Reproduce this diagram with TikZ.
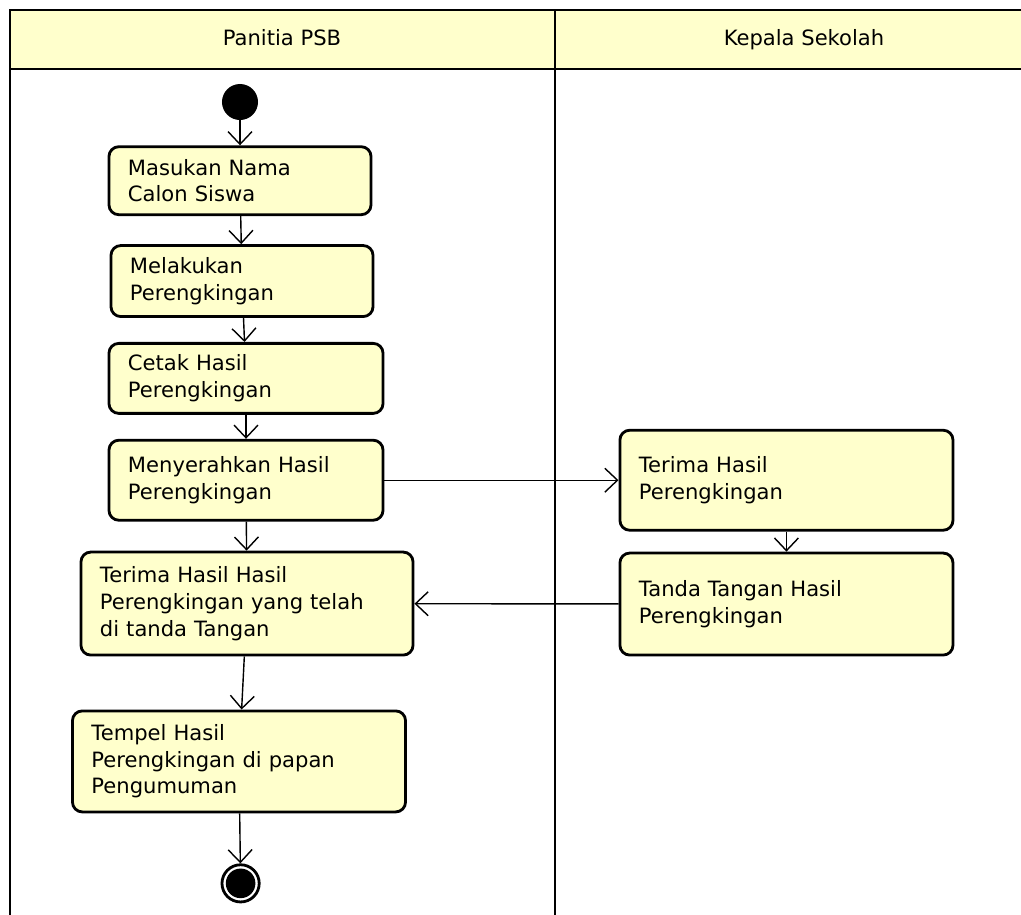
\documentclass[tikz,border=0pt]{standalone}
\usepackage{fontspec}
\setmainfont{DejaVu Sans}
\usepackage{tikz}
\usetikzlibrary{positioning,shapes,arrows.meta}
\usepackage{xcolor}
\definecolor{actfill}{RGB}{255,255,204}

\begin{document}
\begin{tikzpicture}[
  x=0.025cm, y=-0.025cm,
  node distance=0.7cm and 1cm,
  actnode/.style={draw,line width=2pt,rounded corners=7pt,fill=actfill,align=left,
    inner xsep=0.475cm,inner ysep=0pt,font=\fontsize{15pt}{19pt}\selectfont},
  startnode/.style={circle,fill=black,minimum size=0.9cm,inner sep=0pt},
  endnode/.style={circle,draw,line width=2pt,minimum size=0.93cm,inner sep=0pt,
    path picture={\fill (path picture bounding box.center) circle (0.37cm);}},
  lanetitle/.style={font=\fontsize{15pt}{19pt}\selectfont,text height=1.1em,text depth=0.25em},
  frame/.style={line width=2pt},
  flow/.style={-{Straight Barb[length=9pt,width=17pt]},line width=1pt}
]
\useasboundingbox (0,0) rectangle (1021,915);
\clip (0,0) rectangle (1021,915);
% swimlanes
\fill[actfill] (10,10) rectangle (1030,69);
\draw[frame] (1030,10) -- (10,10) -- (10,930);
\draw[frame] (10,69) -- (1030,69);
\draw[frame] (555,10) -- (555,930);
\node[lanetitle] (lane1) at (282,40) {Panitia PSB};
\node[lanetitle] (lane2) at (804,40) {Kepala Sekolah};
% Panitia PSB
\node[startnode] (st) at (240,102) {};
\node[actnode,text width=5.6cm,minimum height=1.7cm,below=0.625cm of st] (b1) {Masukan Nama\\Calon Siswa};
\node[actnode,text width=5.6cm,minimum height=1.775cm,below=0.7cm of b1,xshift=0.05cm] (b2) {Melakukan\\Perengkingan};
\node[actnode,text width=5.9cm,minimum height=1.75cm,below=0.6cm of b2,xshift=0.1cm] (b3) {Cetak Hasil\\Perengkingan};
\node[actnode,text width=5.9cm,minimum height=2cm,below=0.6cm of b3] (b4) {Menyerahkan Hasil\\Perengkingan};
\node[actnode,text width=7.35cm,minimum height=2.575cm,below=0.725cm of b4,xshift=0.025cm] (b5) {Terima Hasil Hasil\\Perengkingan yang telah\\di tanda Tangan};
\node[actnode,text width=7.375cm,minimum height=2.525cm,below=1.325cm of b5,xshift=-0.2cm] (b6) {Tempel Hasil\\Perengkingan di papan\\Pengumuman};
\node[endnode,below=1.25cm of b6,xshift=0.04cm] (en) {};
% Kepala Sekolah
\node[actnode,text width=7.375cm,minimum height=2.5cm,right=5.85cm of b4] (ta) {Terima Hasil\\Perengkingan};
\node[actnode,text width=7.375cm,minimum height=2.55cm,below=0.5cm of ta] (tb) {Tanda Tangan Hasil\\Perengkingan};
\path (st) edge[flow] (b1)
(b1) edge[flow] (b2)
(b2) edge[flow] (b3)
(b3) edge[flow] (b4)
(b4) edge[flow] (b5)
(b5) edge[flow] (b6)
(b6) edge[flow] (en)
(b4) edge[flow] (ta)
(ta) edge[flow] (tb)
(tb) edge[flow] (b5);
\end{tikzpicture}
\end{document}
